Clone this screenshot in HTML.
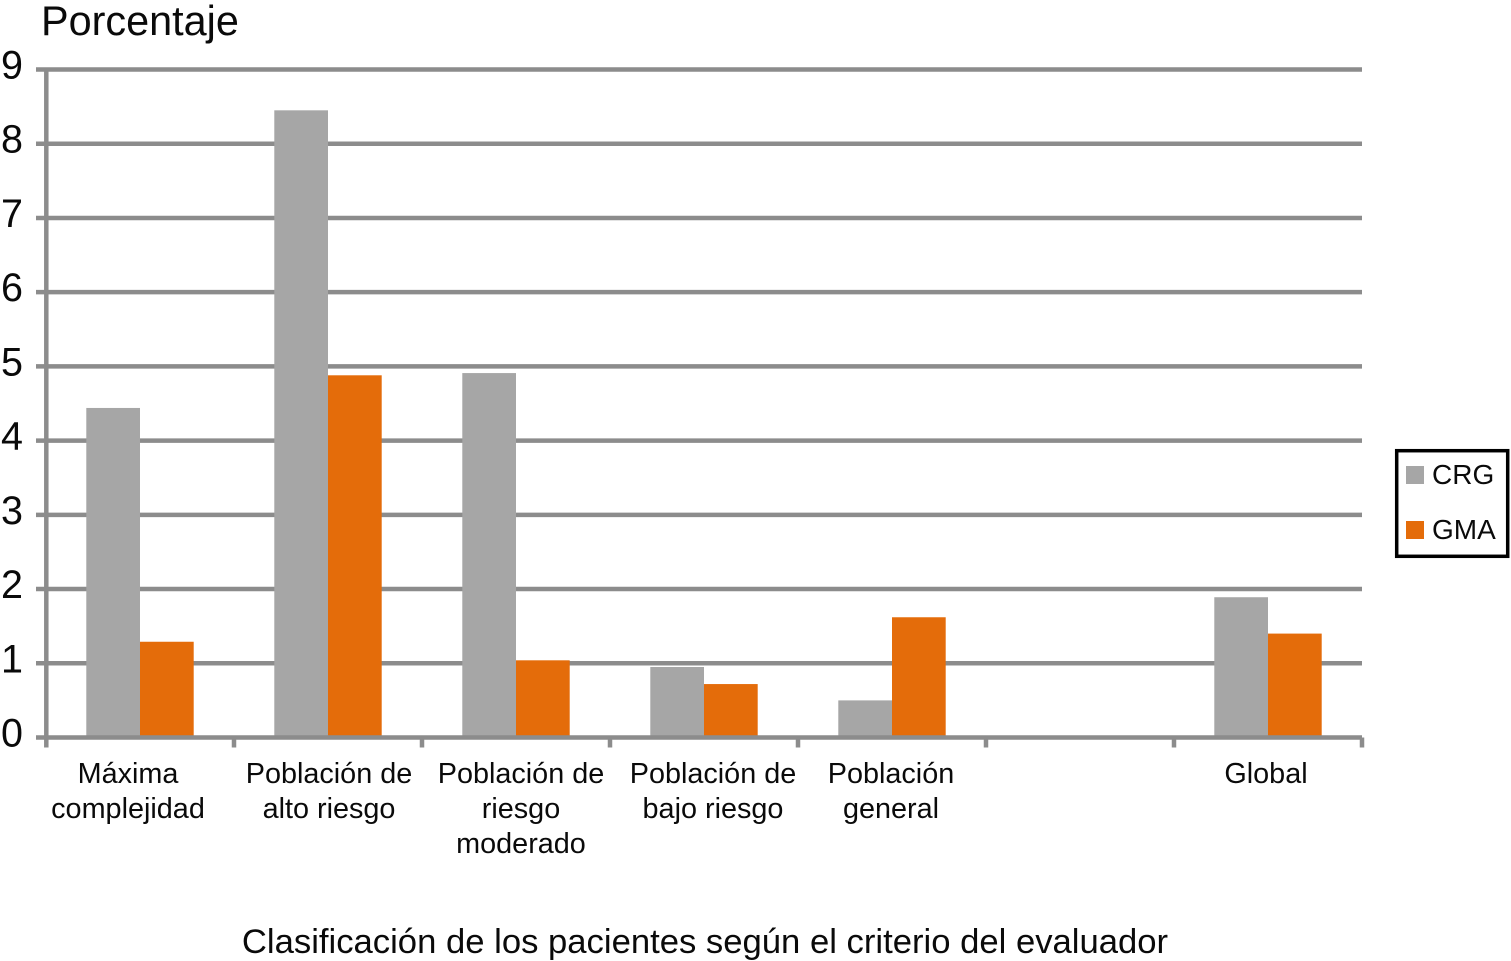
<!DOCTYPE html>
<html>
<head>
<meta charset="utf-8">
<style>
html,body{margin:0;padding:0;background:#fff;}
svg{display:block;}
text{font-family:"Liberation Sans",Arial,sans-serif;fill:#0a0a0a;}
</style>
</head>
<body>
<svg id="chart" width="1511" height="961" viewBox="0 0 1511 961" xmlns="http://www.w3.org/2000/svg"></svg>
<script>
const categories = [["Máxima","complejidad"],["Población de","alto riesgo"],["Población de","riesgo","moderado"],["Población de","bajo riesgo"],["Población","general"],[""],["Global"]];
const crgValues = [4.44,8.45,4.91,0.95,0.5,null,1.89];
const gmaValues = [1.29,4.88,1.04,0.72,1.62,null,1.4];
const yTicks = [0,1,2,3,4,5,6,7,8,9];
const legendLabels = ["CRG","GMA"];
const yTitle = "Porcentaje";
const xTitle = "Clasificación de los pacientes según el criterio del evaluador";

const svg = document.getElementById('chart');
const NS = 'http://www.w3.org/2000/svg';
const plotLeft = 46, plotRight = 1362, y0 = 737.5, y9 = 69.5;
const grid = '#8c8c8c';
const lineW = 4.5;
const y = v => y0 - (v / 9) * (y0 - y9);
const bandW = (plotRight - plotLeft) / categories.length;
const bandCenter = i => plotLeft + i * bandW + bandW / 2;
const barW = 53.7;
const labelNudge = [-12,1,5,9,-1,0,-2];

function mk(tag, attrs, txt){
  const e = document.createElementNS(NS, tag);
  for (const k in attrs) e.setAttribute(k, attrs[k]);
  if (txt !== undefined) e.textContent = txt;
  svg.appendChild(e);
  return e;
}

yTicks.forEach(t => {
  if (t === 0) return;
  const line = mk('line',{x1:36,x2:plotRight,y1:y(t),y2:y(t),stroke:grid,'stroke-width':lineW});
  
  
});

yTicks.forEach(t => {
  const lab = mk('text',{x:12,y:y(t)+9,'font-size':39.5,'text-anchor':'middle'},String(t));
  
  
});

const yAxis = mk('line',{x1:46.3,x2:46.3,y1:y9,y2:y0+10,stroke:grid,'stroke-width':lineW});



for (let i = 1; i <= categories.length; i++){
  const tick = mk('line',{x1:plotLeft+i*bandW,x2:plotLeft+i*bandW,y1:y0,y2:y0+10,stroke:grid,'stroke-width':lineW});
  
  
}

categories.forEach((c, i) => {
  const cx = bandCenter(i);
  if (crgValues[i] !== null){
    const b1 = mk('rect',{x:cx-barW,y:y(crgValues[i]),width:barW,height:y0-y(crgValues[i]),fill:'#a6a6a6'});
    
    
  }
  if (gmaValues[i] !== null){
    const b2 = mk('rect',{x:cx,y:y(gmaValues[i]),width:barW,height:y0-y(gmaValues[i]),fill:'#e46c0a'});
    
    
  }
  c.forEach((ln, j) => {
    if (!ln) return;
    const t = mk('text',{x:cx+labelNudge[i],y:783+j*35,'font-size':28.8,'text-anchor':'middle'},ln);
    
    
  });
});

const xAxis = mk('line',{x1:36,x2:plotRight,y1:y(0),y2:y(0),stroke:grid,'stroke-width':lineW});



const yT = mk('text',{x:41,y:35,'font-size':41.4},yTitle);



const xT = mk('text',{x:705,y:953,'font-size':34.65,'text-anchor':'middle'},xTitle);



const box = mk('rect',{x:1396.7,y:450.7,width:111,height:105.6,fill:'#fff',stroke:'#000','stroke-width':3.5});



const legendColors = ['#a6a6a6','#e46c0a'];
legendLabels.forEach((l, i) => {
  const sw = mk('rect',{x:1406,y:466+i*55,width:18,height:18,fill:legendColors[i]});
  
  
  const t = mk('text',{x:1432,y:484+i*55,'font-size':28},l);
  
  
});
</script>
</body>
</html>
